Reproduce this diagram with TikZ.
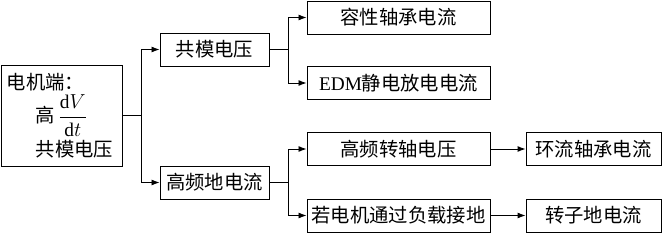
\documentclass[tikz,border=0pt]{standalone}
\usepackage{amsmath}
\usepackage{fontspec}
\setmainfont{Liberation Serif}
\newfontfamily\cjk{Noto Sans CJK SC}
\usetikzlibrary{arrows.meta}

\tikzset{
  box/.style={draw,line width=0.8pt,minimum height=0.99cm,inner sep=1pt,
    font=\cjk\fontsize{16.5pt}{20pt}\selectfont},
  link/.style={line width=0.8pt,-{Latex[length=2.4mm,width=1.8mm]}}
}

\begin{document}
\begin{tikzpicture}[x=0.03cm,y=-0.03cm]

  \useasboundingbox (0,0) rectangle (662,234);

  % Widths
  \def\wa{3.27cm}
  \def\wb{5.49cm}
  \def\wc{4.05cm}

  % Source
  \node[box,text width=3.3cm,inner xsep=5pt,minimum height=3.03cm,align=left]
    (src) at (62,115.5)
    {电机端：\\[2pt]
     \hspace*{1.5em}高\,$\dfrac{\mathrm{d}V}{\mathrm{d}t}$\\[2pt]
     \hspace*{1.5em}共模电压};

  % Middle column
  \node[box,minimum width=\wa] (cmv) at (214.5,49.5) {共模电压};
  \node[box,minimum width=\wa] (hfi) at (214.5,182.5) {高频地电流};

  % Third column
  \node[box,minimum width=\wb] (cap) at (398.5,17.5) {容性轴承电流};
  \node[box,minimum width=\wb] (edm) at (398.5,83) {{\rmfamily EDM}静电放电电流};
  \node[box,minimum width=\wb] (shv) at (398.5,149) {高频转轴电压};
  \node[box,minimum width=\wb] (gnd) at (398.5,215.5) {若电机通过负载接地};

  % Last column
  \node[box,minimum width=\wc] (cir) at (593.5,149) {环流轴承电流};
  \node[box,minimum width=\wc] (rot) at (593.5,215.5) {转子地电流};

  % Branch points
  \coordinate (j1) at (141,115.5);
  \coordinate (j2) at (288,49.5);
  \coordinate (j3) at (288,182.5);

  \draw[line width=0.8pt] (src.east) -- (j1);
  \draw[link] (j1) |- (cmv.west);
  \draw[link] (j1) |- (hfi.west);

  \draw[line width=0.8pt] (cmv.east) -- (j2);
  \draw[link] (j2) |- (cap.west);
  \draw[link] (j2) |- (edm.west);

  \draw[line width=0.8pt] (hfi.east) -- (j3);
  \draw[link] (j3) |- (shv.west);
  \draw[link] (j3) |- (gnd.west);

  \draw[link] (shv) -- (cir);
  \draw[link] (gnd) -- (rot);

\end{tikzpicture}
\end{document}
